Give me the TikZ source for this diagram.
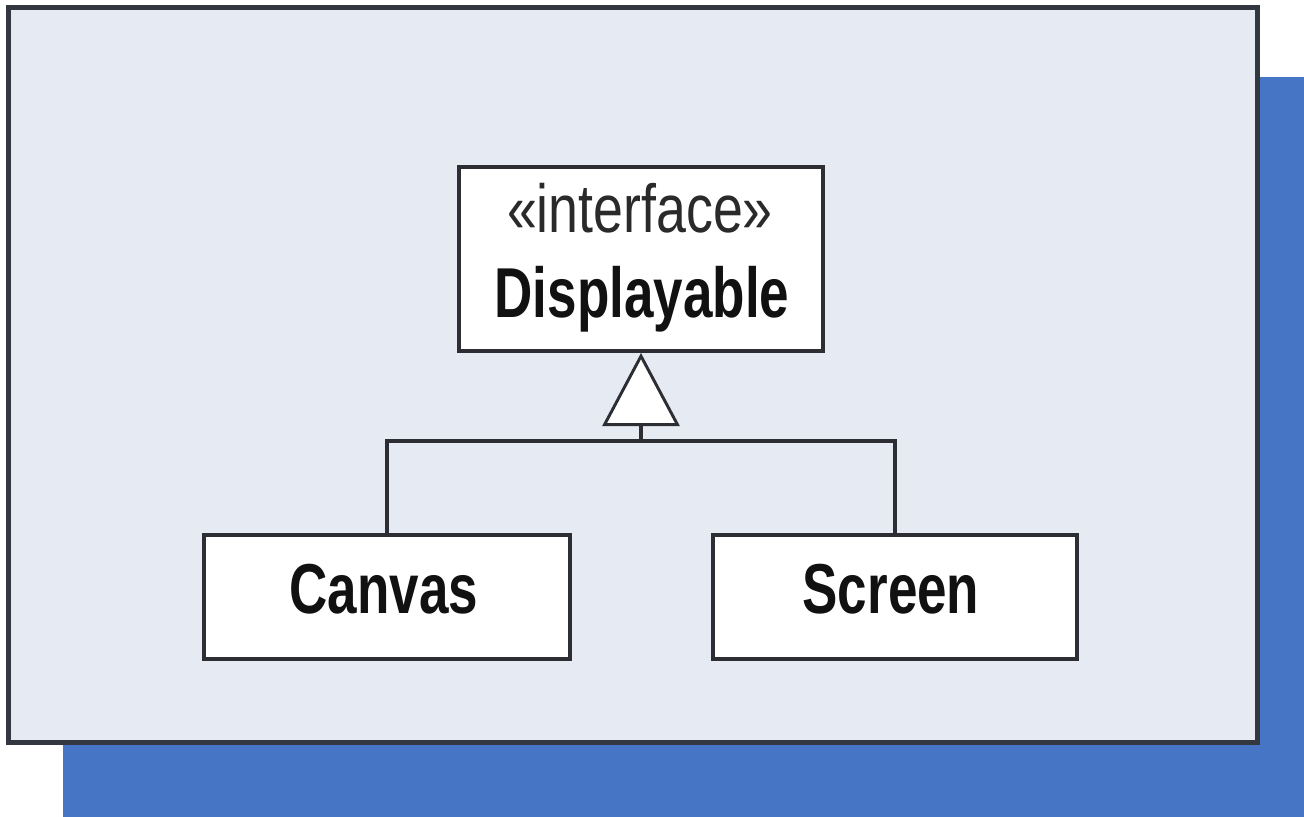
\documentclass[tikz,border=0pt]{standalone}
\usepackage{fontspec}
\setmainfont{Liberation Sans}
\newfontfamily\umlreg[FakeStretch=0.79]{Liberation Sans}
\newfontfamily\umlbold[FakeStretch=0.75]{Liberation Sans}
\usetikzlibrary{arrows.meta}

\definecolor{panelfill}{HTML}{E6EAF3}
\definecolor{panelline}{HTML}{33373F}
\definecolor{shadowblue}{HTML}{4775C5}
\definecolor{boxline}{HTML}{2C2E34}
\definecolor{stereotext}{HTML}{2A2A2A}
\definecolor{nametext}{HTML}{111111}

\begin{document}
\begin{tikzpicture}[x=0.75pt,y=-0.75pt,
  classbox/.style={draw=boxline, fill=white, line width=3pt, inner sep=0pt},
  stereotype/.style={anchor=base, text=stereotext, inner sep=0pt,
    font=\umlreg\fontsize{51}{51}\selectfont},
  classname/.style={anchor=base, text=nametext, inner sep=0pt,
    font=\umlbold\bfseries\fontsize{53}{53}\selectfont},
  conn/.style={draw=boxline, line width=2.6pt},
  realize/.style={-{Triangle[length=54.75pt, width=57.75pt, fill=white, line width=2.2pt]}}
]
\useasboundingbox (0,0) rectangle (1304,817);

% drop shadow and panel
\fill[shadowblue] (63,77) rectangle (1304,817);
\draw[panelline, line width=3.75pt, fill=panelfill] (8.5,7.5) rectangle (1257,742);

% classes
\node[classbox, minimum width=273pt, minimum height=138pt] (disp) at (641,259) {};
\node[classbox, minimum width=274.5pt, minimum height=93pt] (canvas) at (387,597) {};
\node[classbox, minimum width=273pt, minimum height=93pt] (screen) at (895,597) {};

% class texts
\node[stereotype] (stereo) at (640,232) {«interface»};
\node[classname] (dispname) at (642,317) {Displayable};
\node[classname] (canvasname) at (384,613) {Canvas};
\node[classname] (screenname) at (891,613) {Screen};

% realization connectors
\coordinate (bar) at (641,441);
\draw[conn] (canvas.north) |- (bar) -| (screen.north);
\draw[conn, realize] (bar) -- (disp.south);
\end{tikzpicture}
\end{document}
